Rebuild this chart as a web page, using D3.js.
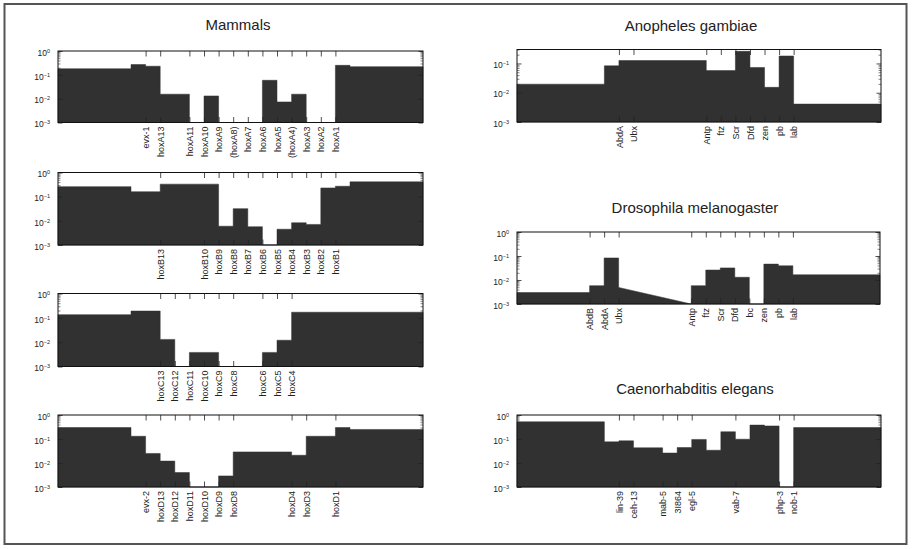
<!DOCTYPE html>
<html><head><meta charset="utf-8">
<script src="https://cdn.jsdelivr.net/npm/d3@7"></script>
<style>
html,body{margin:0;padding:0;background:#fff;}
svg{display:block;font-family:"Liberation Sans",Arial,Helvetica,sans-serif;}
</style></head><body>
<svg id="chart" width="915" height="549"></svg>
<script>
// ================= DATA =================
// x positions are in gene-slot units (0..25), y values are fractions (log scale)
const mamA_genes = ["evx-1","hoxA13","hoxA11","hoxA10","hoxA9","(hoxA8)","hoxA7","hoxA6","hoxA5","(hoxA4)","hoxA3","hoxA2","hoxA1"];
const mamA_pos   = [6,7,9,10,11,12,13,14,15,16,17,18,19];
const mamA_edges = [0,5,6,7,9,10,11,14,15,16,17,19,20,25];
const mamA_vals  = [0.18,0.27,0.23,0.0154,null,0.013,null,0.059,0.0073,0.0154,null,0.25,0.22];

const mamB_genes = ["hoxB13","hoxB10","hoxB9","hoxB8","hoxB7","hoxB6","hoxB5","hoxB4","hoxB3","hoxB2","hoxB1"];
const mamB_pos   = [7,10,11,12,13,14,15,16,17,18,19];
const mamB_edges = [0,5,7,11,12,13,14,15,16,17,18,19,20,25];
const mamB_vals  = [0.26,0.16,0.33,0.006,0.032,0.0057,null,0.0045,0.0083,0.0071,0.23,0.27,0.41];

const mamC_genes = ["hoxC13","hoxC12","hoxC11","hoxC10","hoxC9","hoxC8","hoxC6","hoxC5","hoxC4"];
const mamC_pos   = [7,8,9,10,11,12,14,15,16];
const mamC_edges = [0,5,7,8,9,11,14,15,16,25];
const mamC_vals  = [0.135,0.19,0.013,null,0.0038,null,0.0038,0.012,0.17];

const mamD_genes = ["evx-2","hoxD13","hoxD12","hoxD11","hoxD10","hoxD9","hoxD8","hoxD4","hoxD3","hoxD1"];
const mamD_pos   = [6,7,8,9,10,11,12,16,17,19];
const mamD_edges = [0,5,6,7,8,9,11,12,16,17,19,20,25];
const mamD_vals  = [0.30,0.13,0.025,0.012,0.004,null,0.0029,0.029,0.021,0.13,0.30,0.25];

const anoph_genes = ["AbdA","Ubx","Antp","ftz","Scr","Dfd","zen","pb","lab"];
const anoph_pos   = [7,8,13,14,15,16,17,18,19];
const anoph_edges = [0,6,7,13,15,16,17,18,19,25];
const anoph_vals  = [0.0196,0.083,0.126,0.057,0.26,0.073,0.0153,0.18,0.0041];

const droso_genes = ["AbdB","AbdA","Ubx","Antp","ftz","Scr","Dfd","bc","zen","pb","lab"];
const droso_pos   = [5,6,7,12,13,14,15,16,17,18,19];
const droso_edges = [0,5,6,7,12,13,14,15,16,17,18,19,25];
// a pair = value at start and end of a sloped segment
const droso_vals  = [0.003,0.0058,0.083,[0.0049,0.001],0.0058,0.026,0.032,0.013,null,0.046,0.039,0.0165];

const celeg_genes = ["lin-39","ceh-13","mab-5","3I864","egl-5","vab-7","php-3","nob-1"];
const celeg_pos   = [7,8,10,11,12,15,18,19];
const celeg_edges = [0,6,7,8,10,11,12,13,14,15,16,17,18,19,25];
const celeg_vals  = [0.52,0.076,0.084,0.043,0.026,0.044,0.096,0.034,0.2,0.098,0.38,0.35,null,0.30];

const xDomain = [0,25];
const yTicksFull  = [1e-3,1e-2,1e-1,1];
const yTicksAnoph = [1e-3,1e-2,1e-1];
const titles = ["Mammals","Anopheles gambiae","Drosophila melanogaster","Caenorhabditis elegans"];

// ================= LAYOUT =================
const panels = [
  {genes:mamA_genes,pos:mamA_pos,edges:mamA_edges,vals:mamA_vals,box:[58,51,423,122.5],yMax:1,yTicks:yTicksFull},
  {genes:mamB_genes,pos:mamB_pos,edges:mamB_edges,vals:mamB_vals,box:[58,172.5,423,245],yMax:1,yTicks:yTicksFull},
  {genes:mamC_genes,pos:mamC_pos,edges:mamC_edges,vals:mamC_vals,box:[58,293.5,423,366.5],yMax:1,yTicks:yTicksFull},
  {genes:mamD_genes,pos:mamD_pos,edges:mamD_edges,vals:mamD_vals,box:[58,415,423,487],yMax:1,yTicks:yTicksFull},
  {genes:anoph_genes,pos:anoph_pos,edges:anoph_edges,vals:anoph_vals,box:[517,49.5,881,122],yMax:0.3,yTicks:yTicksAnoph},
  {genes:droso_genes,pos:droso_pos,edges:droso_edges,vals:droso_vals,box:[517,232,880,304],yMax:1,yTicks:yTicksFull},
  {genes:celeg_genes,pos:celeg_pos,edges:celeg_edges,vals:celeg_vals,box:[517,415,881,487],yMax:1,yTicks:yTicksFull}
];
const titlePos = [[238,30],[691,30.5],[695,212.5],[695,394]];

const svg = d3.select("#chart");
const FILL = "#313131", INK = "#222";

// outer frame
svg.append("rect").attr("x",4.5).attr("y",4).attr("width",902).attr("height",540)
  .attr("fill","none").attr("stroke","#555").attr("stroke-width",2);

titles.forEach((t,i)=>{
  svg.append("text").attr("x",titlePos[i][0]).attr("y",titlePos[i][1])
    .attr("text-anchor","middle").attr("font-size","15px").attr("fill",INK).text(t);
});

panels.forEach(p=>{
  const [x0,y0,x1,y1] = p.box;
  const x = d3.scaleLinear().domain(xDomain).range([x0,x1]);
  const y = d3.scaleLog().domain([1e-3,p.yMax]).range([y1,y0]);
  const floor = 1e-3;
  const pts = [];
  p.vals.forEach((v,i)=>{
    let a, b;
    if (v === null) { a = b = floor; }
    else if (Array.isArray(v)) { a = v[0]; b = v[1]; }
    else { a = b = v; }
    pts.push({x:p.edges[i], v:Math.max(a,floor)});
    pts.push({x:p.edges[i+1], v:Math.max(b,floor)});
  });
  const g = svg.append("g");
  const area = d3.area().x(d=>x(d.x)).y0(y(floor)).y1(d=>y(d.v));
  g.append("path").attr("d",area(pts)).attr("fill",FILL).attr("stroke",FILL).attr("stroke-width",0.5);

  // minor y ticks
  const minor = [];
  for (let e=-3;e<0;e++) for (let m=2;m<=9;m++){ const val=m*Math.pow(10,e); if (val<=p.yMax*1.0001) minor.push(val); }
  [["L",x0],["R",x1]].forEach(([side,xx])=>{
    const ax = side==="L" ? d3.axisLeft(y) : d3.axisRight(y);
    g.append("g").attr("transform",`translate(${xx},0)`)
      .call(ax.tickValues(minor).tickSize(-2.5).tickFormat(""))
      .call(s=>s.select(".domain").remove())
      .call(s=>s.selectAll("line").attr("stroke","#333").attr("stroke-width",0.6));
    const axM = side==="L" ? d3.axisLeft(y) : d3.axisRight(y);
    g.append("g").attr("transform",`translate(${xx},0)`)
      .call(axM.tickValues(p.yTicks).tickSize(-4.5).tickFormat(""))
      .call(s=>s.select(".domain").remove())
      .call(s=>s.selectAll("line").attr("stroke","#222").attr("stroke-width",0.8));
  });
  // y labels 10^n
  const yl = g.append("g").attr("transform",`translate(${x0},0)`)
    .call(d3.axisLeft(y).tickValues(p.yTicks).tickSize(0).tickPadding(8).tickFormat(""));
  yl.select(".domain").remove();
  yl.selectAll(".tick text").each(function(d){
    const t = d3.select(this).attr("font-size","8.5px").attr("fill",INK).attr("dy","0.5em")
      .attr("font-family","'Liberation Sans',Arial,sans-serif");
    t.append("tspan").text("10");
    t.append("tspan").attr("dy","-0.55em").attr("font-size","5.5px").text(String(Math.round(Math.log10(d))).replace("-","\u2212"));
  });

  // x ticks top & bottom (inward)
  const tickTop = g.append("g").attr("transform",`translate(0,${y0})`)
    .call(d3.axisTop(x).tickValues(p.pos).tickSize(-5.5).tickFormat(""));
  tickTop.select(".domain").remove();
  tickTop.selectAll("line").attr("stroke","#222").attr("stroke-width",0.8);
  const bot = g.append("g").attr("transform",`translate(0,${y1})`)
    .call(d3.axisBottom(x).tickValues(p.pos).tickSize(-5.5)
      .tickFormat((d,i)=>p.genes[i]));
  bot.select(".domain").remove();
  bot.selectAll("line").attr("stroke","#222").attr("stroke-width",0.8);
  bot.selectAll("text").attr("transform","rotate(-90)").attr("x",-4).attr("y",0)
    .attr("dy","0.35em").attr("text-anchor","end").attr("font-size","9px").attr("fill",INK)
    .attr("font-family","'Liberation Sans',Arial,sans-serif");

  // frame
  g.append("rect").attr("x",x0).attr("y",y0).attr("width",x1-x0).attr("height",y1-y0)
    .attr("fill","none").attr("stroke","#111").attr("stroke-width",1);
});
</script></body></html>
